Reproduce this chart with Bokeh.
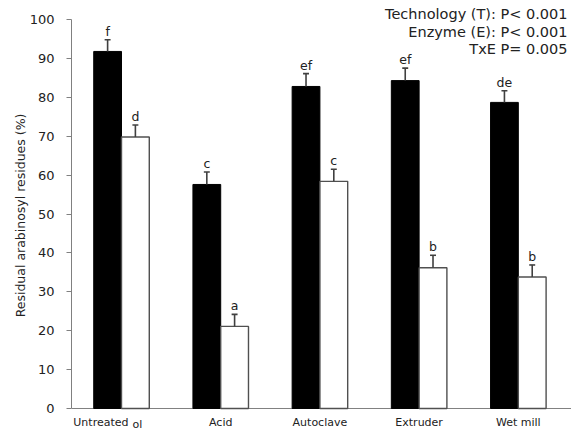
from bokeh.plotting import figure
from bokeh.models import Range1d, FixedTicker, ColumnDataSource
from bokeh.core.properties import value
from bokeh.embed import file_html
from bokeh.resources import INLINE

# Pretreatment technologies (x categories)
technologies = ["Untreated", "Acid", "Autoclave", "Extruder", "Wet mill"]

# Residual arabinosyl residues (%) - without enzyme (black) and with enzyme (white)
no_enzyme = [91.8, 57.6, 82.8, 84.3, 78.7]
no_enzyme_err = [3.0, 3.2, 3.3, 3.2, 3.0]
no_enzyme_letters = ["f", "c", "ef", "ef", "de"]

with_enzyme = [69.8, 21.1, 58.4, 36.2, 33.8]
with_enzyme_err = [3.1, 3.1, 3.1, 3.2, 3.1]
with_enzyme_letters = ["d", "a", "c", "b", "b"]

y_ticks = list(range(0, 101, 10))
stats_lines = ["Technology (T): P< 0.001", "Enzyme (E): P< 0.001", "TxE P= 0.005"]

FONT = "DejaVu Sans"
FONT_VAL = value(FONT)
BAR_W = 0.28
CAP = 0.03
INK = "#222222"

p = figure(width=571, height=430, output_backend="svg", toolbar_location=None,
           x_range=Range1d(-0.504, 4.536), y_range=Range1d(-5.66, 104.9),
           x_axis_location=None,
           min_border_left=71, min_border_right=0, min_border_top=0,
           min_border_bottom=0)
p.outline_line_color = None
p.xgrid.visible = False
p.ygrid.visible = False

idx = list(range(len(technologies)))
x_black = [i - BAR_W / 2 for i in idx]
x_white = [i + BAR_W / 2 for i in idx]

# Baseline (x axis line at 0)
p.segment(x0=[-0.504], y0=[0], x1=[4.536], y1=[0], line_color="#808080", line_width=1)

p.vbar(x=x_black, top=no_enzyme, width=BAR_W, fill_color="black", line_color="black")
p.vbar(x=x_white, top=with_enzyme, width=BAR_W, fill_color="white", line_color="#505050",
       line_width=1.4)


def draw_errors(xs, tops, errs, letters):
    hi = [t + e for t, e in zip(tops, errs)]
    p.segment(x0=xs, y0=tops, x1=xs, y1=hi, line_color="#404040", line_width=1.6)
    p.segment(x0=[x - CAP for x in xs], y0=hi, x1=[x + CAP for x in xs], y1=hi,
              line_color="#404040", line_width=1.6)
    src = ColumnDataSource(dict(x=xs, y=hi, t=letters))
    p.text(x="x", y="y", text="t", source=src, text_align="center",
           text_baseline="bottom", y_offset=-1, text_font_size="12.5px",
           text_font=FONT_VAL, text_color=INK)


draw_errors(x_black, no_enzyme, no_enzyme_err, no_enzyme_letters)
draw_errors(x_white, with_enzyme, with_enzyme_err, with_enzyme_letters)

# Category labels under the baseline
label_y = -2.06
p.text(x=idx[1:], y=[label_y] * 4, text=technologies[1:], text_align="center",
       text_baseline="top", text_font=FONT_VAL, text_font_size="11px",
       text_color=INK)
p.text(x=[0], y=[label_y], text=[technologies[0]], text_align="right",
       text_baseline="top", x_offset=7, text_font=FONT_VAL,
       text_font_size="11px", text_color=INK)
p.text(x=[0], y=[label_y - 0.5], text=["ol"], text_align="left",
       text_baseline="top", x_offset=11, text_font=FONT_VAL,
       text_font_size="11px", text_color=INK)

# Y axis
yax = p.yaxis[0]
yax.bounds = (0, 100)
yax.ticker = FixedTicker(ticks=y_ticks)
yax.minor_tick_line_color = None
yax.major_tick_in = 0
yax.major_tick_out = 5
yax.axis_line_color = "#808080"
yax.major_tick_line_color = "#808080"
yax.major_label_text_font = FONT
yax.major_label_text_font_size = "13px"
yax.major_label_text_color = INK
yax.major_label_standoff = 12
yax.axis_label = "Residual arabinosyl residues (%)"
yax.axis_label_text_font = FONT
yax.axis_label_text_font_style = "normal"
yax.axis_label_text_font_size = "12.5px"
yax.axis_label_text_color = INK
yax.axis_label_standoff = -1

# Statistics annotation (top right)
stats_y = [101.5, 96.9, 92.5]
p.text(x=[4.536] * 3, y=stats_y, text=stats_lines, text_align="right",
       text_baseline="middle", x_offset=-4, text_font=FONT_VAL,
       text_font_size="14.5px", text_color=INK)

open("out.html", "w").write(file_html(p, INLINE))
